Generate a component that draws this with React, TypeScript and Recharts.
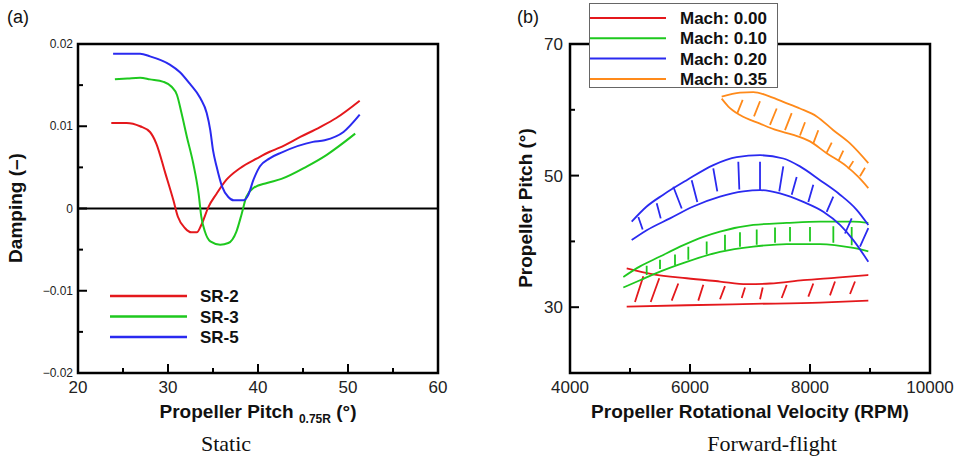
import { ComposedChart, Line, XAxis, YAxis, ReferenceArea, ReferenceLine } from "recharts";

// ---- panel (a): static damping vs pitch ----
const SR2_X = [23.7, 25.4, 26.9, 28.0, 28.7, 29.7, 30.6, 31.1, 31.9, 32.6, 33.2, 33.7, 34.5, 35.4, 36.5, 38.0, 39.9, 41.3, 42.4, 44.7, 46.9, 48.7, 51.3];
const SR2_Y = [0.0104, 0.0104, 0.01, 0.0093, 0.0079, 0.0043, 0.001, -0.001, -0.0024, -0.0029, -0.0029, -0.002, 0.0002, 0.0018, 0.0035, 0.0049, 0.0061, 0.0069, 0.0074, 0.0087, 0.0099, 0.011, 0.0131];

const SR3_X = [24.1, 25.5, 26.9, 28.0, 29.5, 30.4, 31.0, 31.5, 32.1, 32.8, 33.4, 33.7, 34.1, 34.7, 35.8, 36.7, 37.6, 38.2, 38.7, 39.5, 41.0, 42.6, 45.4, 47.6, 50.8];
const SR3_Y = [0.0157, 0.0158, 0.0159, 0.0157, 0.0154, 0.0148, 0.0138, 0.0116, 0.0087, 0.0055, 0.0018, -0.001, -0.0028, -0.004, -0.0044, -0.0042, -0.0028, -0.0006, 0.0014, 0.0025, 0.0031, 0.0036, 0.0051, 0.0065, 0.0091];

const SR5_X = [23.9, 26.9, 28.0, 30.2, 31.3, 32.4, 33.6, 34.3, 34.7, 35.0, 35.4, 36.0, 36.7, 37.3, 38.4, 38.9, 39.5, 40.2, 41.3, 42.6, 46.1, 47.4, 49.5, 51.3];
const SR5_Y = [0.0188, 0.0188, 0.0185, 0.0175, 0.0166, 0.0152, 0.0134, 0.0116, 0.0095, 0.0071, 0.0051, 0.0027, 0.0014, 0.001, 0.001, 0.0016, 0.0035, 0.0051, 0.0061, 0.0068, 0.0081, 0.0083, 0.0093, 0.0114];

const A_X_TICKS = [20, 25, 30, 35, 40, 45, 50, 55, 60];
const A_X_LABELED = [20, 30, 40, 50, 60];
const A_Y_TICKS = [-0.02, -0.015, -0.01, -0.005, 0, 0.005, 0.01, 0.015, 0.02];
const A_Y_LABELED = [-0.02, -0.01, 0, 0.01, 0.02];
const A_Y_LABELS = ["\u22120.02", "\u22120.01", "0", "0.01", "0.02"];

// ---- panel (b): forward flight, band = upper/lower bound + hatch ----
const M00_UP_X = [4945, 5389, 5945, 6500, 6945, 7333, 7889, 8445, 8972];
const M00_UP_Y = [35.9, 35.0, 34.4, 33.9, 33.5, 33.6, 34.1, 34.5, 34.9];
const M00_LO_X = [4945, 5945, 7055, 8167, 8972];
const M00_LO_Y = [30.1, 30.3, 30.5, 30.7, 31.0];
const M00_HATCH = [
  [5083, 30.8, 5222, 34.7], [5345, 30.8, 5488, 34.4], [5695, 31.0, 5805, 33.6], [6138, 31.0, 6222, 33.4],
  [6500, 31.2, 6583, 33.2], [6862, 31.4, 6917, 33.0], [7167, 31.2, 7212, 33.0], [7528, 31.4, 7612, 33.4],
  [7972, 31.6, 8055, 33.6], [8333, 31.8, 8417, 33.9], [8667, 32.0, 8750, 33.9],
];

const M10_UP_X = [4889, 5167, 5500, 5833, 6222, 6500, 7055, 7611, 8167, 8722, 8972];
const M10_UP_Y = [34.6, 36.2, 37.7, 39.2, 40.7, 41.5, 42.5, 42.8, 43.0, 43.0, 42.8];
const M10_LO_X = [4889, 5167, 5389, 5945, 6500, 7055, 7611, 8167, 8722, 8972];
const M10_LO_Y = [33.0, 34.1, 35.0, 36.9, 38.4, 39.2, 39.6, 39.6, 39.0, 38.5];
const M10_HATCH = [
  [5278, 34.9, 5278, 36.3], [5500, 35.8, 5500, 37.2], [5750, 36.4, 5750, 38.0], [5972, 37.2, 5972, 39.2],
  [6278, 38.0, 6278, 40.0], [6583, 38.7, 6583, 41.0], [6833, 39.2, 6833, 41.4], [7112, 39.5, 7112, 41.8],
  [7417, 39.8, 7417, 42.1], [7667, 40.0, 7667, 42.2], [8000, 40.0, 8000, 42.2], [8389, 39.8, 8389, 42.3],
  [8695, 39.4, 8695, 42.2],
];

const M20_UP_X = [5028, 5278, 5555, 5945, 6389, 6778, 7167, 7555, 7833, 8167, 8500, 8778, 8972];
const M20_UP_Y = [43.0, 45.3, 47.1, 49.3, 51.6, 52.8, 53.1, 52.6, 51.4, 49.3, 47.1, 44.8, 42.5];
const M20_LO_X = [5028, 5278, 5667, 6055, 6500, 6889, 7167, 7500, 7889, 8222, 8500, 8722, 8972];
const M20_LO_Y = [40.2, 41.7, 43.5, 45.3, 46.8, 47.6, 47.8, 47.3, 46.0, 44.5, 42.5, 40.2, 36.9];
const M20_HATCH = [
  [5211, 41.8, 5139, 43.7], [5512, 43.5, 5445, 45.8], [5862, 45.0, 5722, 48.3], [6122, 46.0, 6028, 49.3],
  [6455, 47.6, 6388, 51.1], [6822, 47.9, 6805, 52.1], [7167, 47.8, 7167, 52.1], [7488, 47.6, 7555, 51.4],
  [7695, 47.1, 7778, 49.8], [7972, 46.0, 8055, 48.6], [8278, 44.5, 8388, 46.8], [8583, 41.2, 8695, 43.5],
  [8833, 39.2, 8972, 42.0],
];

const M35_UP_X = [6528, 6833, 7055, 7278, 7555, 7833, 8111, 8389, 8667, 8972];
const M35_UP_Y = [62.0, 62.6, 62.7, 62.2, 61.2, 60.2, 59.0, 56.9, 54.9, 51.9];
const M35_LO_X = [6528, 6639, 6833, 7167, 7444, 7722, 8000, 8278, 8611, 8806, 8972];
const M35_LO_Y = [61.7, 60.5, 59.2, 57.9, 56.9, 56.2, 55.2, 53.4, 51.4, 49.8, 48.1];
const M35_HATCH = [
  [6789, 59.5, 6878, 61.5], [7067, 59.0, 7167, 61.3], [7333, 57.7, 7445, 60.2], [7583, 56.9, 7695, 59.5],
  [7833, 56.1, 7917, 58.1], [8055, 54.9, 8138, 56.9], [8278, 53.5, 8362, 55.0], [8472, 52.2, 8555, 53.8],
  [8638, 51.0, 8722, 52.2], [8833, 49.9, 8917, 51.2],
];

const B_X_TICKS = [4000, 5000, 6000, 7000, 8000, 9000, 10000];
const B_X_LABELED = [4000, 6000, 8000, 10000];
const B_Y_TICKS = [20, 30, 40, 50, 60, 70];
const B_Y_LABELED = [30, 50, 70];

const RED = "#e4181c";
const GREEN = "#1ec81e";
const BLUE = "#2a2af0";
const ORANGE = "#ff8a1a";
const SANS = "'Liberation Sans', Arial, Helvetica, sans-serif";
const SERIF = "'Liberation Serif', 'Times New Roman', serif";

const zip = (xs: number[], ys: number[]) => xs.map((x, i) => ({ x, y: ys[i] }));
// hatch segments joined into one series, broken by null points
const hatch = (segs: number[][]) =>
  segs.flatMap(([x0, y0, x1, y1]) => [{ x: x0, y: y0 }, { x: x1, y: y1 }, { x: x1, y: null }]);

const STATIC_SERIES = [
  { name: "SR-2", color: RED, data: zip(SR2_X, SR2_Y) },
  { name: "SR-3", color: GREEN, data: zip(SR3_X, SR3_Y) },
  { name: "SR-5", color: BLUE, data: zip(SR5_X, SR5_Y) },
];

const FLIGHT_SERIES = [
  { name: "Mach: 0.00", color: RED, up: zip(M00_UP_X, M00_UP_Y), lo: zip(M00_LO_X, M00_LO_Y), hatch: hatch(M00_HATCH) },
  { name: "Mach: 0.10", color: GREEN, up: zip(M10_UP_X, M10_UP_Y), lo: zip(M10_LO_X, M10_LO_Y), hatch: hatch(M10_HATCH) },
  { name: "Mach: 0.20", color: BLUE, up: zip(M20_UP_X, M20_UP_Y), lo: zip(M20_LO_X, M20_LO_Y), hatch: hatch(M20_HATCH) },
  { name: "Mach: 0.35", color: ORANGE, up: zip(M35_UP_X, M35_UP_Y), lo: zip(M35_LO_X, M35_LO_Y), hatch: hatch(M35_HATCH) },
];

const findLabel = (v: number, labeled: number[], labels?: string[]) => {
  const i = labeled.findIndex((l) => Math.abs(l - v) < 1e-9);
  if (i < 0) return null;
  return labels ? labels[i] : String(labeled[i]);
};

// inward ticks, long on labelled values
const bottomTick = (labeled: number[], fontSize: number) => (p: any) => {
  const lab = findLabel(p.payload.value, labeled);
  return (
    <g>
      <line x1={p.x} x2={p.x} y1={p.y} y2={p.y - (lab ? 9 : 5)} stroke="#000" strokeWidth={2} />
      {lab && (
        <text x={p.x} y={p.y + 20} textAnchor="middle" fontSize={fontSize} fontFamily={SANS} fill="#222">
          {lab}
        </text>
      )}
    </g>
  );
};

const leftTick = (labeled: number[], fontSize: number, gap: number, labels?: string[]) => (p: any) => {
  const lab = findLabel(p.payload.value, labeled, labels);
  return (
    <g>
      <line x1={p.x} x2={p.x + (lab ? 9 : 5)} y1={p.y} y2={p.y} stroke="#000" strokeWidth={2} />
      {lab && (
        <text x={p.x - gap} y={p.y} dy="0.35em" textAnchor="end" fontSize={fontSize} fontFamily={SANS} fill="#222">
          {lab}
        </text>
      )}
    </g>
  );
};

export default function App() {
  return (
    <div style={{ position: "absolute", left: 0, top: 0, width: 957, height: 460, background: "#fff", overflow: "hidden" }}>
      <div style={{ position: "absolute", left: 0, top: 0 }}>
        <ComposedChart width={460} height={460} margin={{ top: 44, right: 22, bottom: 57, left: 28 }}>
          <XAxis
            type="number"
            dataKey="x"
            domain={[20, 60]}
            ticks={A_X_TICKS}
            allowDataOverflow
            height={30}
            axisLine={false}
            tickLine={false}
            tickSize={0}
            tickMargin={0}
            interval={0}
            tick={bottomTick(A_X_LABELED, 17)}
          />
          <YAxis
            type="number"
            domain={[-0.02, 0.02]}
            ticks={A_Y_TICKS}
            allowDataOverflow
            width={50}
            axisLine={false}
            tickLine={false}
            tickSize={0}
            tickMargin={0}
            interval={0}
            tick={leftTick(A_Y_LABELED, 12, 5, A_Y_LABELS)}
          />
          <ReferenceLine y={0} stroke="#000" strokeWidth={2} />
          {STATIC_SERIES.map((s) => (
            <Line
              key={s.name}
              data={s.data}
              dataKey="y"
              type="monotone"
              stroke={s.color}
              strokeWidth={2}
              dot={false}
              isAnimationActive={false}
            />
          ))}
          <ReferenceArea x1={20} x2={60} y1={-0.02} y2={0.02} fill="none" stroke="#000" strokeWidth={2.5} />
        </ComposedChart>
      </div>

      <div style={{ position: "absolute", left: 480, top: 0 }}>
        <ComposedChart width={477} height={460} margin={{ top: 44, right: 27, bottom: 57, left: 40 }}>
          <XAxis
            type="number"
            dataKey="x"
            domain={[4000, 10000]}
            ticks={B_X_TICKS}
            allowDataOverflow
            height={30}
            axisLine={false}
            tickLine={false}
            tickSize={0}
            tickMargin={0}
            interval={0}
            tick={bottomTick(B_X_LABELED, 17)}
          />
          <YAxis
            type="number"
            domain={[20, 70]}
            ticks={B_Y_TICKS}
            allowDataOverflow
            width={50}
            axisLine={false}
            tickLine={false}
            tickSize={0}
            tickMargin={0}
            interval={0}
            tick={leftTick(B_Y_LABELED, 17, 7)}
          />
          {FLIGHT_SERIES.flatMap((s) => [
            <Line key={s.name + "up"} data={s.up} dataKey="y" type="monotone" stroke={s.color} strokeWidth={1.8} dot={false} isAnimationActive={false} />,
            <Line key={s.name + "lo"} data={s.lo} dataKey="y" type="monotone" stroke={s.color} strokeWidth={1.8} dot={false} isAnimationActive={false} />,
            <Line key={s.name + "h"} data={s.hatch} dataKey="y" type="linear" stroke={s.color} strokeWidth={1.8} dot={false} connectNulls={false} isAnimationActive={false} />,
          ])}
          <ReferenceArea x1={4000} x2={10000} y1={20} y2={70} fill="none" stroke="#000" strokeWidth={2.5} />
        </ComposedChart>
      </div>

      <svg width={957} height={460} style={{ position: "absolute", left: 0, top: 0, pointerEvents: "none" }}>
        <text x={7} y={23} fontSize={18} fontFamily={SANS} fill="#111">(a)</text>
        <text x={517} y={23} fontSize={18} fontFamily={SANS} fill="#111">(b)</text>

        <text x={22} y={208} transform="rotate(-90 22 208)" textAnchor="middle" fontSize={19} fontWeight="bold" fontFamily={SANS} fill="#111">
          Damping (–)
        </text>
        <text x={532} y={208} transform="rotate(-90 532 208)" textAnchor="middle" fontSize={19} fontWeight="bold" fontFamily={SANS} fill="#111">
          Propeller Pitch (°)
        </text>

        <text x={258} y={418} textAnchor="middle" fontSize={19} fontWeight="bold" fontFamily={SANS} fill="#111">
          Propeller Pitch <tspan fontSize={12} dy={5}>0.75R</tspan>
          <tspan dy={-5}> (°)</tspan>
        </text>
        <text x={750} y={418} textAnchor="middle" fontSize={19} fontWeight="bold" fontFamily={SANS} fill="#111">
          Propeller Rotational Velocity (RPM)
        </text>

        <text x={226} y={451} textAnchor="middle" fontSize={22} fontFamily={SERIF} fill="#111">Static</text>
        <text x={772} y={451} textAnchor="middle" fontSize={22} fontFamily={SERIF} fill="#111">Forward-flight</text>

        {STATIC_SERIES.map((s, i) => (
          <g key={s.name}>
            <line x1={110} x2={187} y1={296 + i * 20.5} y2={296 + i * 20.5} stroke={s.color} strokeWidth={2.5} />
            <text x={200} y={302 + i * 20.5} fontSize={17} fontWeight="bold" fontFamily={SANS} fill="#111">{s.name}</text>
          </g>
        ))}

        <rect x={589.5} y={3.5} width={188} height={84} fill="#fff" stroke="#666" strokeWidth={1} />
        {FLIGHT_SERIES.map((s, i) => (
          <g key={s.name}>
            <line x1={590} x2={666} y1={18 + i * 20.3} y2={18 + i * 20.3} stroke={s.color} strokeWidth={2} />
            <text x={680} y={24 + i * 20.3} fontSize={17} fontWeight="bold" fontFamily={SANS} fill="#111">{s.name}</text>
          </g>
        ))}
      </svg>
    </div>
  );
}
